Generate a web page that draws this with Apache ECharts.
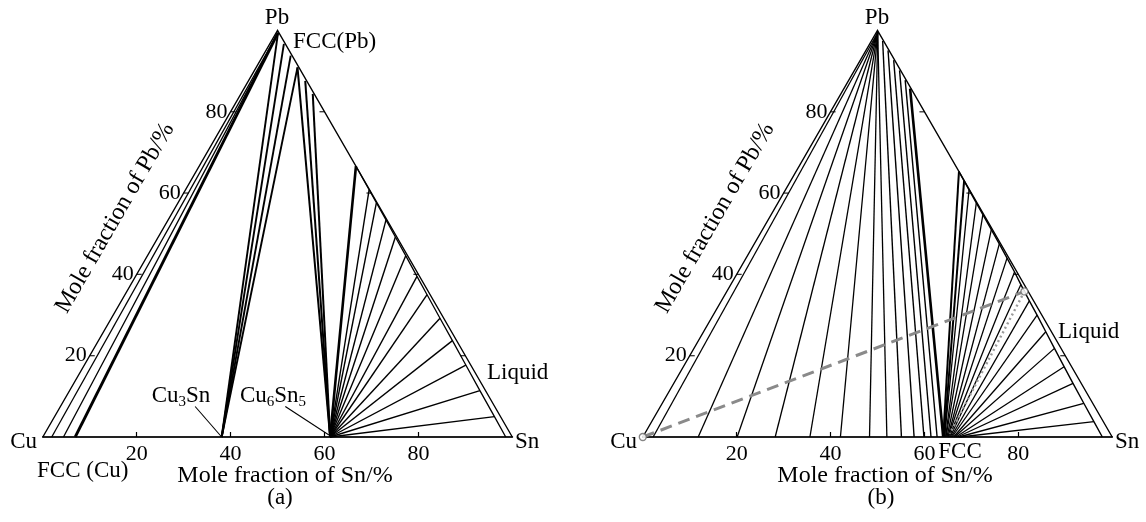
<!DOCTYPE html>
<html>
<head>
<meta charset="utf-8">
<script src="https://cdn.jsdelivr.net/npm/echarts@6/dist/echarts.min.js"></script>
<style>
  html, body { margin: 0; padding: 0; background: #fff; }
  #chart { width: 1146px; height: 522px; }
</style>
</head>
<body>
<div id="chart"></div>
<script>
// Cu–Pb–Sn isothermal sections: (a) and (b)
const FONT = '"Liberation Serif", "Times New Roman", serif';
const tickValues = [20, 40, 60, 80];

// ---------- panel (a) ----------
// FCC(Cu) + FCC(Pb) tie lines: Sn % at the FCC(Cu) end (last one is the 3-phase boundary)
const fccCuSnA = [1.9, 4.4];
const fccCuBoundSnA = 6.9;
const fccPbCornerA = [0.4, 99.4];                     // [Sn, Pb] of FCC(Pb) near Pb corner
// Cu3Sn + FCC(Pb)
const cu3SnA = 38.1;
const cu3SnEndsA = [[0.4, 99.4], [3.0, 96.7], [5.9, 93.8], [8.8, 90.9]];
// Cu6Sn5 + FCC(Pb)
const cu6Sn5A = 61.2;
const cu6Sn5EndsA = [[8.8, 90.9], [12.1, 87.6], [15.3, 84.4]];
// Cu6Sn5 + Liquid: liquid compositions (Pb %, Cu %); last point closes the liquid line on Cu–Sn side
const liqPbA = [66.6, 60.8, 57.6, 53.4, 49.2, 44.6, 39.5, 35.0, 29.2, 23.7, 17.7, 11.4, 5.0, 0];
const liqCuA = [0.0, 0.1, 0.15, 0.2, 0.3, 0.4, 0.55, 0.65, 0.8, 0.9, 1.05, 1.2, 1.3, 1.4];

// ---------- panel (b) ----------
// tie lines running to the Pb corner: Sn % on the Cu–Sn side
const pbFanSnB = [2.2, 11.8, 20.1, 28.2, 35.6, 42.1, 48.3, 52.0];
const pbCornerB = [0.3, 99.5];
// tie lines to FCC(Pb) compositions along the Pb–Sn side
const fccPbBaseSnB = [55.1, 57.8, 59.9, 61.4, 62.7];
const fccPbEndsB = [[2.4, 97.4], [4.7, 95.1], [7.1, 92.7], [9.6, 90.2], [12.0, 87.8]];
const fccBoundB = [[64.0, 0], [14.1, 85.7]];
// FCC + Liquid fan: FCC Sn % and liquid compositions (Pb %, Cu %)
const fccStartSnB = [64.0, 64.2, 64.3, 64.5, 64.6, 64.8, 65.0, 65.1, 65.3, 65.5, 65.7, 65.9, 66.2, 66.4, 66.7, 67.0, 67.3, 67.6];
const liqPbB = [65.3, 63.0, 60.8, 57.6, 54.7, 51.0, 47.5, 44.0, 40.6, 37.5, 33.5, 30.0, 25.9, 21.8, 17.3, 13.2, 8.3, 3.8, 0];
const liqCuB = [0.0, 0.05, 0.1, 0.15, 0.2, 0.25, 0.3, 0.4, 0.5, 0.7, 0.9, 1.0, 1.2, 1.4, 1.6, 1.75, 1.9, 2.0, 2.1];
// alloy path: Cu corner -> liquid point, then liquid point -> FCC
const alloyLiquidB = [63.4, 35.8];
const alloyFccB = [65.0, 0.8];

// ternary (Sn, Pb) -> cartesian units of the equilateral triangle
const R3 = Math.sqrt(3) / 2;
const tern = (sn, pb) => [sn + pb / 2, pb * R3];
const liqPoint = (pb, cu) => [100 - pb - cu, pb];

function seg(a, b) { return { coords: [tern(a[0], a[1]), tern(b[0], b[1])] }; }
function lineSet(i, data, width, extra) {
  return Object.assign({
    type: 'lines', coordinateSystem: 'cartesian2d', xAxisIndex: i, yAxisIndex: i,
    polyline: false, silent: true, clip: false, z: 3, animation: false,
    lineStyle: { color: '#000', width: width, opacity: 1 },
    data: data
  }, extra || {});
}
function polySet(i, pts, width, extra) {
  return lineSet(i, [{ coords: pts.map(p => tern(p[0], p[1])) }], width, Object.assign({ polyline: true }, extra || {}));
}

function frame(i) {
  return [
    polySet(i, [[0, 0], [0, 100], [100, 0]], 1.4),
    // ticks + labels on the Cu–Pb side
    {
      type: 'scatter', xAxisIndex: i, yAxisIndex: i, silent: true, z: 4, animation: false,
      symbol: 'rect', symbolSize: [5, 1.3], symbolOffset: [2.5, 0],
      itemStyle: { color: '#000' },
      label: { show: true, position: 'left', distance: 3, fontSize: 22, fontFamily: FONT, color: '#000',
               opacity: 1, textBorderWidth: 0, formatter: p => p.value[2] },
      data: tickValues.map(v => tern(0, v).concat([String(v)]))
    },
    // ticks on the Pb–Sn side
    {
      type: 'scatter', xAxisIndex: i, yAxisIndex: i, silent: true, z: 4, animation: false,
      symbol: 'rect', symbolSize: [5, 1.3], symbolOffset: [-2.5, 0],
      itemStyle: { color: '#000' },
      data: tickValues.map(v => tern(100 - v, v))
    }
  ];
}

const liqA = liqPbA.map((pb, k) => liqPoint(pb, liqCuA[k]));
const liqB = liqPbB.map((pb, k) => liqPoint(pb, liqCuB[k]));

const series = [
  ...frame(0),
  lineSet(0, fccCuSnA.map(s => seg([s, 0], fccPbCornerA)), 1.3),
  lineSet(0, [seg([fccCuBoundSnA, 0], fccPbCornerA)], 2.8),
  lineSet(0, cu3SnEndsA.map(e => seg([cu3SnA, 0], e)), 1.9),
  lineSet(0, cu6Sn5EndsA.map(e => seg([cu6Sn5A, 0], e)), 2.0),
  lineSet(0, [seg([cu6Sn5A, 0], liqA[0])], 2.6),
  lineSet(0, liqA.slice(1, -1).map(e => seg([cu6Sn5A, 0], e)), 1.4),
  polySet(0, liqA, 1.3),

  ...frame(1),
  lineSet(1, pbFanSnB.map(s => seg([s, 0], pbCornerB)), 1.3),
  lineSet(1, fccPbBaseSnB.map((s, k) => seg([s, 0], fccPbEndsB[k])), 1.4),
  lineSet(1, [seg(fccBoundB[0], fccBoundB[1])], 2.6),
  lineSet(1, [seg([fccStartSnB[0], 0], liqB[0]), seg([fccStartSnB[1], 0], liqB[1])], 2.0),
  lineSet(1, liqB.slice(2, -1).map((e, k) => seg([fccStartSnB[k + 2], 0], e)), 1.3),
  polySet(1, liqB, 1.4),
  polySet(1, [[0, 0], alloyLiquidB], 3, { z: 5, lineStyle: { color: '#8a8a8a', width: 3, type: [12, 7], opacity: 1 } }),
  polySet(1, [alloyLiquidB, alloyFccB], 2.5, { z: 5, lineStyle: { color: '#9a9a9a', width: 2.4, type: [2, 3], opacity: 1 } }),
  {
    type: 'scatter', xAxisIndex: 1, yAxisIndex: 1, silent: true, z: 6, animation: false,
    symbol: 'circle', symbolSize: 7,
    itemStyle: { color: '#fff', borderColor: '#666', borderWidth: 1.3 },
    data: [tern(0, 0), tern(alloyLiquidB[0], alloyLiquidB[1])]
  }
];

function axisX(i) {
  return {
    gridIndex: i, type: 'value', min: 0, max: 100, interval: 20,
    axisLine: { show: true, onZero: false, lineStyle: { color: '#222', width: 1.8 } },
    axisTick: { show: true, inside: true, length: 5, lineStyle: { color: '#000', width: 1.2 }, customValues: tickValues },
    axisLabel: { show: true, margin: 6, fontSize: 22, fontFamily: FONT, color: '#000', opacity: 1, customValues: tickValues },
    splitLine: { show: false }
  };
}
function axisY(i) {
  return { gridIndex: i, type: 'value', min: 0, max: 100 * R3, show: false };
}

function txt(x, y, text, align, extra) {
  return {
    type: 'text', x: x, y: y, silent: true, z: 10,
    style: Object.assign({ text: text, fill: '#000', fontSize: 23, fontFamily: FONT,
                           align: align || 'center', verticalAlign: 'middle' }, extra || {})
  };
}
const subRich = {
  n: { fontSize: 23, fontFamily: FONT, fill: '#000', lineHeight: 28 },
  s: { fontSize: 15, fontFamily: FONT, fill: '#000', lineHeight: 16, verticalAlign: 'bottom' }
};

const graphics = [
  // panel (a)
  txt(277, 18, 'Pb'),
  txt(293, 42, 'FCC(Pb)', 'left'),
  txt(37, 442, 'Cu', 'right'),
  txt(515, 442, 'Sn', 'left'),
  txt(37, 471, 'FCC (Cu)', 'left'),
  txt(181, 396, '{n|Cu}{s|3}{n|Sn}', 'center', { rich: subRich }),
  txt(273, 396, '{n|Cu}{s|6}{n|Sn}{s|5}', 'center', { rich: subRich }),
  txt(487, 373, 'Liquid', 'left'),
  txt(285, 476, 'Mole fraction of Sn/%', 'center', { fontSize: 24 }),
  txt(280, 498, '(a)'),
  Object.assign(txt(115, 218, 'Mole fraction of Pb/%', 'center', { fontSize: 24 }), { rotation: Math.PI / 3 }),
  // panel (b)
  txt(877, 18, 'Pb'),
  txt(637, 442, 'Cu', 'right'),
  txt(1115, 442, 'Sn', 'left'),
  txt(1058, 332, 'Liquid', 'left'),
  txt(960, 452, 'FCC'),
  txt(885, 476, 'Mole fraction of Sn/%', 'center', { fontSize: 24 }),
  txt(881, 498, '(b)'),
  Object.assign(txt(715, 218, 'Mole fraction of Pb/%', 'center', { fontSize: 24 }), { rotation: Math.PI / 3 })
];

// leader lines for the compound labels in (a)
series.push(lineSet(0, [seg([28.7, 7.5], [cu3SnA, 0]), seg([47.9, 7.5], [cu6Sn5A - 0.5, 0.5])], 1.1));

const chart = echarts.init(document.getElementById('chart'), null, { renderer: 'canvas' });
chart.setOption({
  animation: false,
  backgroundColor: '#fff',
  grid: [
    { left: 42.8, top: 30.4, width: 469.5, height: 406.6, containLabel: false, outerBoundsMode: 'none' },
    { left: 642.8, top: 30.5, width: 469.4, height: 406.5, containLabel: false, outerBoundsMode: 'none' }
  ],
  xAxis: [axisX(0), axisX(1)],
  yAxis: [axisY(0), axisY(1)],
  series: series,
  graphic: graphics
});
</script>
</body>
</html>
